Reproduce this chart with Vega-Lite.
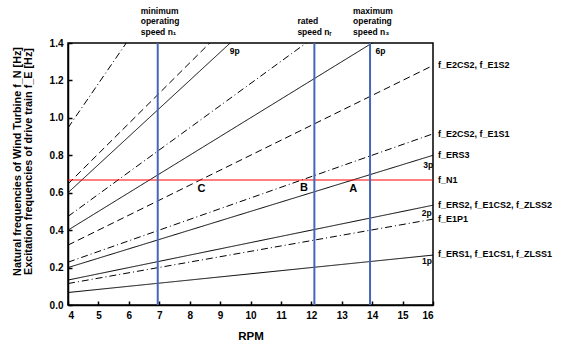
{
  "$schema": "https://vega.github.io/schema/vega-lite/v6.json",
  "width": 365,
  "height": 262,
  "autosize": "none",
  "padding": {"left": 68, "top": 43, "right": 134, "bottom": 42},
  "background": "white",
  "config": {
    "font": "Liberation Sans",
    "view": {"stroke": "black", "strokeWidth": 1.5},
    "axis": {"grid": false, "labelFont": "Liberation Sans", "labelFontWeight": "bold", "labelFontSize": 10, "labelColor": "black", "titleColor": "black", "titleFontWeight": "bold", "titleFont": "Liberation Sans", "domainColor": "black", "tickColor": "black", "domainWidth": 1.5, "tickWidth": 1.5}
  },
  "datasets": {
    "lines": [
      {"id": "1p", "style": "solid", "rpm": 4, "f": 0.0667}, {"id": "1p", "style": "solid", "rpm": 16, "f": 0.2667},
      {"id": "E1P1", "style": "dashdot", "rpm": 4, "f": 0.1147}, {"id": "E1P1", "style": "dashdot", "rpm": 16, "f": 0.4587},
      {"id": "2p", "style": "solid", "rpm": 4, "f": 0.1333}, {"id": "2p", "style": "solid", "rpm": 16, "f": 0.5333},
      {"id": "3p", "style": "solid", "rpm": 4, "f": 0.2}, {"id": "3p", "style": "solid", "rpm": 16, "f": 0.8},
      {"id": "E1S1", "style": "dashdot", "rpm": 4, "f": 0.2287}, {"id": "E1S1", "style": "dashdot", "rpm": 16, "f": 0.9147},
      {"id": "E1S2", "style": "dashed", "rpm": 4, "f": 0.32}, {"id": "E1S2", "style": "dashed", "rpm": 16, "f": 1.28},
      {"id": "6p", "style": "solid", "rpm": 4, "f": 0.4}, {"id": "6p", "style": "solid", "rpm": 16, "f": 1.6},
      {"id": "DD7", "style": "dashdot", "rpm": 4, "f": 0.4733}, {"id": "DD7", "style": "dashdot", "rpm": 16, "f": 1.8933},
      {"id": "9p", "style": "solid", "rpm": 4, "f": 0.6}, {"id": "9p", "style": "solid", "rpm": 16, "f": 2.4},
      {"id": "D10", "style": "dashed", "rpm": 4, "f": 0.6467}, {"id": "D10", "style": "dashed", "rpm": 16, "f": 2.5867},
      {"id": "DD14", "style": "dashdot", "rpm": 4, "f": 0.9467}, {"id": "DD14", "style": "dashdot", "rpm": 16, "f": 3.7867}
    ],
    "speeds": [
      {"rpm": 6.95, "l1": "minimum", "l2": "operating", "l3": "speed n₁"},
      {"rpm": 12.1, "l1": "", "l2": "rated", "l3": "speed nᵣ"},
      {"rpm": 13.93, "l1": "maximum", "l2": "operating", "l3": "speed n₃"}
    ],
    "right": [
      {"label": "f_E2CS2, f_E1S2", "f": 1.28},
      {"label": "f_E2CS2, f_E1S1", "f": 0.914},
      {"label": "f_ERS3", "f": 0.8},
      {"label": "f_N1", "f": 0.668},
      {"label": "f_ERS2, f_E1CS2, f_ZLSS2", "f": 0.533},
      {"label": "f_E1P1", "f": 0.461},
      {"label": "f_ERS1, f_E1CS1, f_ZLSS1", "f": 0.27}
    ],
    "orders": [
      {"label": "9p", "rpm": 9.48, "f": 1.359},
      {"label": "6p", "rpm": 14.27, "f": 1.359},
      {"label": "3p", "rpm": 15.84, "f": 0.747},
      {"label": "2p", "rpm": 15.79, "f": 0.491},
      {"label": "1p", "rpm": 15.8, "f": 0.233}
    ],
    "points": [
      {"label": "A", "rpm": 13.38, "f": 0.621},
      {"label": "B", "rpm": 11.76, "f": 0.626},
      {"label": "C", "rpm": 8.39, "f": 0.621}
    ]
  },
  "encoding": {
    "x": {"type": "quantitative", "scale": {"domain": [4, 16], "nice": false, "zero": false},
      "axis": {"title": "RPM", "titleFontSize": 11.5, "titlePadding": 10, "tickSize": -4, "labelPadding": 9, "values": [4,5,6,7,8,9,10,11,12,13,14,15,16], "format": "d"}},
    "y": {"type": "quantitative", "scale": {"domain": [0, 1.4], "nice": false},
      "axis": {"title": ["Natural frequencies of Wind Turbine f_N [Hz]", "Excitation frequencies of drive train f_E [Hz]"], "titleFontSize": 10.8, "titleLineHeight": 11, "titleAngle": -90, "titleX": -51, "titleY": 118, "titleAlign": "center", "titleBaseline": "middle", "tickSize": -4, "labelPadding": 9, "values": [0, 0.2, 0.4, 0.6, 0.8, 1.0, 1.2, 1.4], "format": ".1f"}}
  },
  "layer": [
    {
      "data": {"name": "lines"},
      "mark": {"type": "line", "clip": true, "strokeWidth": 1, "color": "black"},
      "encoding": {
        "x": {"field": "rpm"},
        "y": {"field": "f"},
        "detail": {"field": "id"},
        "strokeDash": {"field": "style", "type": "nominal", "scale": {"domain": ["solid", "dashed", "dashdot"], "range": [[1, 0], [7, 4], [7, 3, 1, 3]]}, "legend": null}
      }
    },
    {
      "data": {"values": [{"f": 0.668}]},
      "mark": {"type": "rule", "color": "#ff0000", "strokeWidth": 1.2},
      "encoding": {"y": {"field": "f"}}
    },
    {
      "data": {"name": "speeds"},
      "mark": {"type": "rule", "color": "#4466bb", "strokeWidth": 2},
      "encoding": {"x": {"field": "rpm"}}
    },
    {
      "data": {"name": "speeds"},
      "mark": {"type": "text", "align": "left", "baseline": "middle", "dx": -17, "dy": -11, "fontSize": 8.5, "fontWeight": "bold", "clip": false},
      "encoding": {"x": {"field": "rpm"}, "y": {"datum": 1.4}, "text": {"field": "l3"}}
    },
    {
      "data": {"name": "speeds"},
      "mark": {"type": "text", "align": "left", "baseline": "middle", "dx": -17, "dy": -21.7, "fontSize": 8.5, "fontWeight": "bold", "clip": false},
      "encoding": {"x": {"field": "rpm"}, "y": {"datum": 1.4}, "text": {"field": "l2"}}
    },
    {
      "data": {"name": "speeds"},
      "mark": {"type": "text", "align": "left", "baseline": "middle", "dx": -17, "dy": -32.4, "fontSize": 8.5, "fontWeight": "bold", "clip": false},
      "encoding": {"x": {"field": "rpm"}, "y": {"datum": 1.4}, "text": {"field": "l1"}}
    },
    {
      "data": {"name": "right"},
      "mark": {"type": "text", "align": "left", "baseline": "middle", "dx": 5, "fontSize": 9, "fontWeight": "bold"},
      "encoding": {"x": {"datum": 16}, "y": {"field": "f"}, "text": {"field": "label"}}
    },
    {
      "data": {"name": "orders"},
      "mark": {"type": "text", "align": "center", "baseline": "middle", "fontSize": 8.5, "fontWeight": "bold"},
      "encoding": {"x": {"field": "rpm"}, "y": {"field": "f"}, "text": {"field": "label"}}
    },
    {
      "data": {"name": "points"},
      "mark": {"type": "text", "align": "center", "baseline": "middle", "fontSize": 11, "fontWeight": "bold"},
      "encoding": {"x": {"field": "rpm"}, "y": {"field": "f"}, "text": {"field": "label"}}
    }
  ]
}
